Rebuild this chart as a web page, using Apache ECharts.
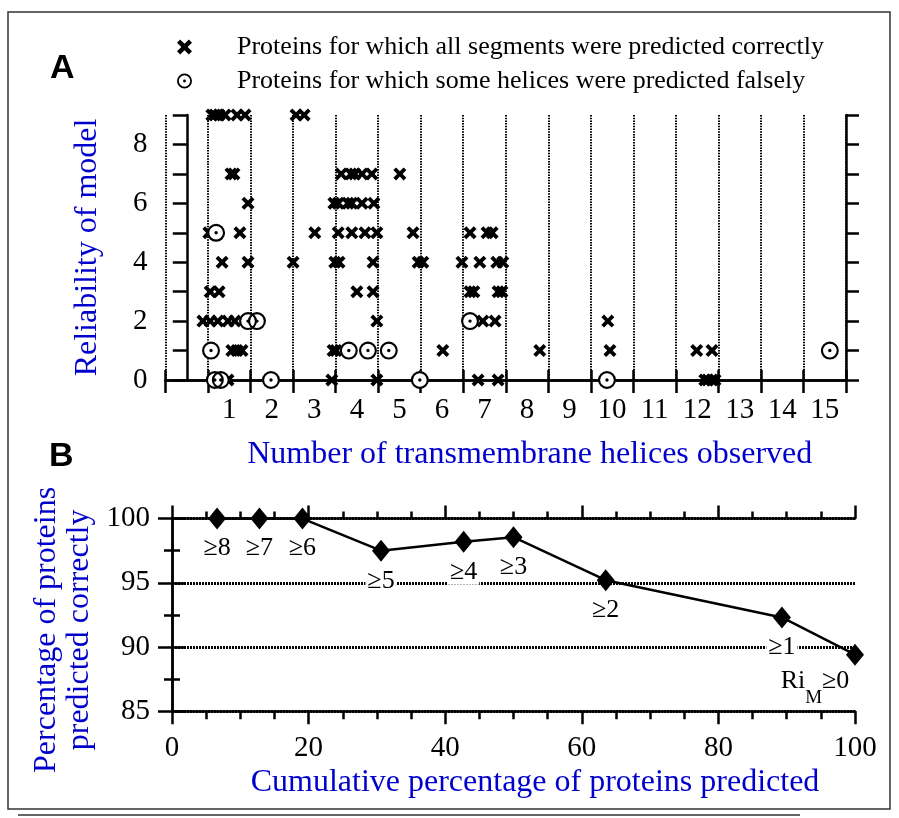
<!DOCTYPE html>
<html>
<head>
<meta charset="utf-8">
<title>Reliability of TM helix prediction</title>
<script src="https://cdn.jsdelivr.net/npm/echarts@6/dist/echarts.min.js"></script>
<style>
  html, body { margin: 0; padding: 0; background: #fff; }
  #chart { width: 899px; height: 818px; }
</style>
</head>
<body>
<div id="chart"></div>
<script>
// ---- panel A: [helices observed (jittered), reliability index] ----
const correctPts = [
  [0.59, 9], [0.66, 9], [0.76, 9], [0.90, 9], [1.18, 9], [1.37, 9], [2.57, 9], [2.76, 9],
  [1.04, 7], [1.11, 7], [3.63, 7], [3.86, 7], [3.95, 7], [4.12, 7], [4.35, 7], [5.01, 7],
  [1.44, 6], [3.46, 6], [3.56, 6], [3.79, 6], [3.88, 6], [4.12, 6], [4.40, 6],
  [0.52, 5], [1.25, 5], [3.01, 5], [3.56, 5], [3.88, 5], [4.19, 5], [4.47, 5], [5.32, 5], [6.66, 5], [7.06, 5], [7.18, 5],
  [0.83, 4], [1.44, 4], [2.50, 4], [3.48, 4], [3.58, 4], [4.38, 4], [5.44, 4], [5.55, 4], [6.47, 4], [6.89, 4], [7.29, 4], [7.43, 4],
  [0.55, 3], [0.76, 3], [4.00, 3], [4.38, 3], [6.66, 3], [6.75, 3], [7.32, 3], [7.41, 3],
  [0.38, 2], [0.55, 2], [0.73, 2], [0.97, 2], [1.13, 2], [4.47, 2], [6.96, 2], [7.25, 2], [9.90, 2],
  [1.06, 1], [1.18, 1], [1.30, 1], [3.44, 1], [3.51, 1], [6.02, 1], [8.30, 1], [9.95, 1], [11.99, 1], [12.35, 1],
  [0.97, 0], [3.41, 0], [4.47, 0], [6.85, 0], [7.32, 0], [12.18, 0], [12.25, 0], [12.35, 0], [12.42, 0]
];
const falsePts = [
  [0.69, 5],
  [1.44, 2], [1.65, 2], [6.66, 2],
  [0.57, 1], [3.81, 1], [4.26, 1], [4.75, 1], [15.12, 1],
  [0.66, 0], [0.80, 0], [1.98, 0], [5.48, 0], [9.88, 0]
];
const helixTicks = [0, 1, 2, 3, 4, 5, 6, 7, 8, 9, 10, 11, 12, 13, 14, 15];

// ---- panel B ----
const cumPercent = [6.6, 12.8, 19.1, 30.6, 42.7, 50.0, 63.5, 89.3, 100];
const pctCorrect = [100, 100, 100, 97.5, 98.2, 98.55, 95.2, 92.3, 89.4];
const riLabels = ['≥8', '≥7', '≥6', '≥5', '≥4', '≥3', '≥2', '≥1', '≥0'];

const nameCorrect = 'Proteins for which all segments were predicted correctly';
const nameFalse = 'Proteins for which some helices were predicted falsely';

const serif = 'Liberation Serif';
const blue = '#0000cc';
const crossPath = 'path://M0,2.1L2.1,0L5,2.9L7.9,0L10,2.1L7.1,5L10,7.9L7.9,10L5,7.1L2.1,10L0,7.9L2.9,5Z';
const ringPath = 'path://M0,10A10,10,0,1,1,20,10A10,10,0,1,1,0,10Z' +
  'M2.4,10A7.6,7.6,0,1,0,17.6,10A7.6,7.6,0,1,0,2.4,10Z' +
  'M8.1,10A1.9,1.9,0,1,1,11.9,10A1.9,1.9,0,1,1,8.1,10Z';

const axLine = { show: true, lineStyle: { color: '#000', width: 2.5 } };
const tickStyle = { color: '#000', width: 2.5 };
const tickFont = { fontFamily: serif, fontSize: 29, color: '#000' };
const titleFont = { fontFamily: serif, fontSize: 32, color: blue };

let chart = echarts.init(document.getElementById('chart'));

let option = {
  animation: false,
  backgroundColor: '#fff',
  grid: [
    { left: 165.5, top: 115, width: 680.5, height: 265 },
    { left: 172, top: 518.6, width: 683, height: 192.6 }
  ],
  legend: {
    orient: 'vertical',
    left: 172,
    top: 29,
    itemWidth: 15,
    itemHeight: 15,
    itemGap: 8,
    textStyle: { fontFamily: serif, fontSize: 26, color: '#000', padding: [0, 0, 0, 40] },
    data: [
      { name: nameCorrect, icon: crossPath },
      { name: nameFalse, icon: ringPath }
    ]
  },
  xAxis: [
    {
      // A bottom: ticks/grid between categories, labels on integers
      type: 'category', gridIndex: 0, data: helixTicks, position: 'bottom',
      axisLine: axLine,
      axisTick: { show: true, interval: 0, length: 13, lineStyle: tickStyle },
      axisLabel: Object.assign({ interval: 0, margin: 16, formatter: v => (Number(v) === 0 ? '' : v) }, tickFont),
      splitLine: { show: true, interval: 0, lineStyle: { color: '#000', width: 2, type: [1.5, 1.2] } },
      name: 'Number of transmembrane helices observed', nameLocation: 'middle', nameGap: 59,
      nameTextStyle: Object.assign({ padding: [0, 0, 0, 48] }, titleFont)
    },
    {
      type: 'category', gridIndex: 0, data: helixTicks, position: 'top',
      axisLine: axLine,
      axisTick: { show: true, interval: 0, length: 10, lineStyle: tickStyle },
      axisLabel: { show: false },
      splitLine: { show: false }
    },
    { type: 'value', gridIndex: 0, min: -0.5, max: 15.5, show: false },
    {
      type: 'value', gridIndex: 1, min: 0, max: 100, interval: 20, position: 'bottom',
      axisLine: axLine,
      axisTick: { show: true, length: 13, lineStyle: tickStyle },
      minorTick: { show: true, splitNumber: 4, length: 8, lineStyle: tickStyle },
      axisLabel: Object.assign({ margin: 23 }, tickFont),
      splitLine: { show: false },
      name: 'Cumulative percentage of proteins predicted', nameLocation: 'middle', nameGap: 55,
      nameTextStyle: Object.assign({ padding: [0, 0, 0, 43] }, titleFont)
    },
    {
      type: 'value', gridIndex: 1, min: 0, max: 100, interval: 20, position: 'top',
      axisLine: axLine,
      axisTick: { show: true, length: 13, lineStyle: tickStyle },
      minorTick: { show: true, splitNumber: 4, length: 7, lineStyle: tickStyle },
      axisLabel: { show: false },
      splitLine: { show: false }
    }
  ],
  yAxis: [
    {
      type: 'value', gridIndex: 0, min: 0, max: 9, interval: 1, position: 'left',
      axisLine: axLine,
      axisTick: { show: true, length: 14, lineStyle: tickStyle },
      axisLabel: Object.assign({ margin: 18, formatter: v => (v % 2 === 0 ? v : '') }, tickFont),
      splitLine: { show: false },
      name: 'Reliability of model', nameLocation: 'middle', nameGap: 62,
      nameTextStyle: titleFont
    },
    {
      type: 'value', gridIndex: 0, min: 0, max: 9, interval: 1, position: 'right',
      axisLine: axLine,
      axisTick: { show: true, length: 13, lineStyle: tickStyle },
      axisLabel: { show: false },
      splitLine: { show: false }
    },
    {
      type: 'value', gridIndex: 1, min: 85, max: 100, interval: 5, position: 'left',
      axisLine: axLine,
      axisTick: { show: true, length: 14, lineStyle: tickStyle },
      minorTick: { show: true, splitNumber: 2, length: 8, lineStyle: tickStyle },
      axisLabel: Object.assign({ margin: 22 }, tickFont),
      splitLine: { show: true, lineStyle: { color: '#000', width: 3, type: [2, 1] } },
      name: 'Percentage of proteins\npredicted correctly', nameLocation: 'middle', nameGap: 68,
      nameTextStyle: Object.assign({ lineHeight: 33, padding: [0, 30, 0, 0] }, titleFont)
    },
    {
      type: 'value', gridIndex: 1, min: 85, max: 100, interval: 5, position: 'right',
      axisLine: axLine,
      axisTick: { show: true, length: 13, lineStyle: tickStyle },
      minorTick: { show: true, splitNumber: 2, length: 8, lineStyle: tickStyle },
      axisLabel: { show: false },
      splitLine: { show: false }
    }
  ],
  graphic: [
    { type: 'rect', shape: { x: 8, y: 12, width: 882, height: 797 }, style: { fill: 'none', stroke: '#333', lineWidth: 1.5 } },
    { type: 'line', shape: { x1: 18, y1: 815, x2: 800, y2: 815 }, style: { stroke: '#333', lineWidth: 1.5 } },
    { type: 'text', left: 50, top: 52, style: { text: 'A', font: 'bold 34px "Liberation Sans"', fill: '#000' } },
    { type: 'text', left: 49, top: 440, style: { text: 'B', font: 'bold 34px "Liberation Sans"', fill: '#000' } }
  ],
  series: [
    {
      name: nameCorrect, type: 'scatter', xAxisIndex: 2, yAxisIndex: 0,
      symbol: crossPath, symbolSize: 13, z: 2,
      itemStyle: { color: '#000', opacity: 1 },
      data: correctPts
    },
    {
      // white discs so the rings hide crosses underneath
      name: 'mask', type: 'scatter', xAxisIndex: 2, yAxisIndex: 0,
      symbol: 'circle', symbolSize: 17, z: 3,
      itemStyle: { color: '#fff', opacity: 1 },
      data: falsePts
    },
    {
      name: nameFalse, type: 'scatter', xAxisIndex: 2, yAxisIndex: 0,
      symbol: ringPath, symbolSize: 18, z: 4,
      itemStyle: { color: '#000', opacity: 1 },
      data: falsePts
    },
    {
      type: 'line', xAxisIndex: 3, yAxisIndex: 2, z: 5,
      symbol: 'diamond', symbolSize: [18, 22],
      itemStyle: { color: '#000' },
      lineStyle: { color: '#000', width: 2.5 },
      label: {
        show: true, position: 'bottom', distance: 6,
        fontFamily: serif, fontSize: 26, color: '#000',
        backgroundColor: '#fff', padding: [0, 2],
        formatter: p => riLabels[p.dataIndex]
      },
      data: cumPercent.map((x, i) => {
        let item = { value: [x, pctCorrect[i]] };
        if (i === cumPercent.length - 1) {
          item.label = {
            offset: [-40, -4],
            formatter: '{n|Ri}{s|M}{n|' + riLabels[i] + '}',
            rich: {
              n: { fontFamily: serif, fontSize: 26, color: '#000', verticalAlign: 'top', lineHeight: 26 },
              s: { fontFamily: serif, fontSize: 19, color: '#000', verticalAlign: 'bottom', lineHeight: 40 }
            }
          };
        }
        return item;
      })
    }
  ]
};

chart.setOption(option);
</script>
</body>
</html>
